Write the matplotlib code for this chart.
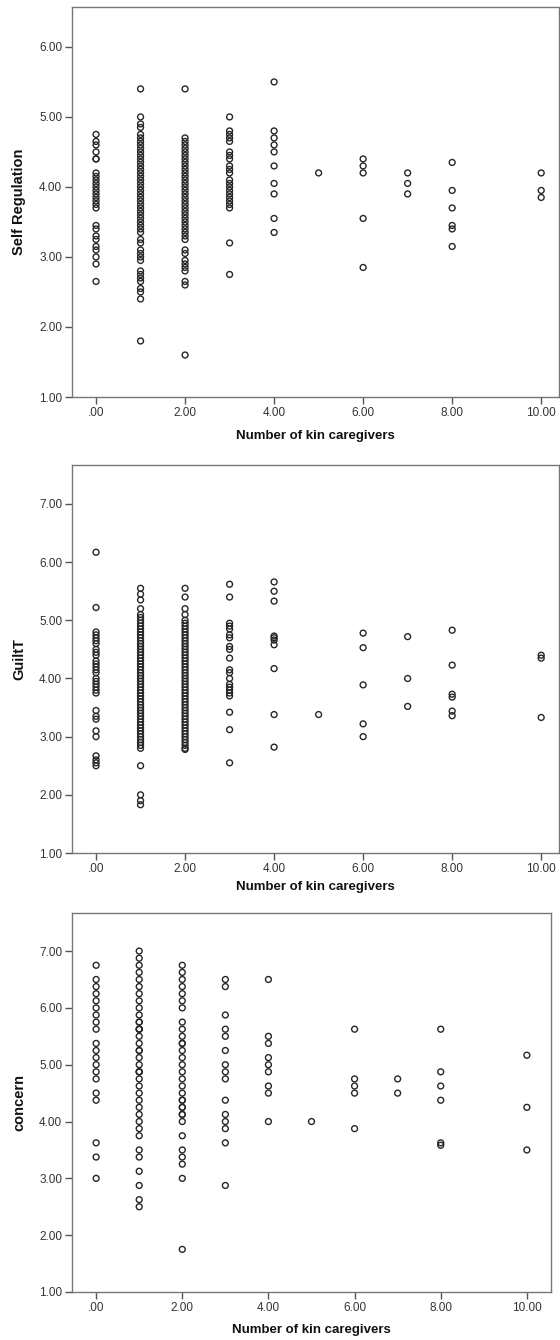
import matplotlib
matplotlib.use("Agg")
import matplotlib.pyplot as plt
from matplotlib.ticker import FuncFormatter

plt.rcParams['font.family'] = ['Liberation Sans', 'DejaVu Sans']

# x categories (number of kin caregivers)
groups = [0, 1, 2, 3, 4, 5, 6, 7, 8, 10]

self_regulation = [
    [4.75, 4.65, 4.6, 4.5, 4.4, 4.4, 4.2, 4.15, 4.1, 4.05, 4.0, 3.95, 3.9, 3.85, 3.8, 3.75, 3.7,
     3.45, 3.4, 3.3, 3.25, 3.15, 3.1, 3.0, 2.9, 2.65],
    [5.4, 5.0, 4.9, 4.85, 4.75, 4.7, 4.65, 4.6, 4.55, 4.5, 4.45, 4.4, 4.35, 4.3, 4.25, 4.2, 4.15,
     4.1, 4.05, 4.0, 3.95, 3.9, 3.85, 3.8, 3.75, 3.7, 3.65, 3.6, 3.55, 3.5, 3.45, 3.4, 3.35,
     3.25, 3.2, 3.1, 3.05, 3.0, 2.95, 2.8, 2.75, 2.7, 2.65, 2.55, 2.5, 2.4, 1.8],
    [5.4, 4.7, 4.65, 4.6, 4.55, 4.5, 4.45, 4.4, 4.35, 4.3, 4.25, 4.2, 4.15, 4.1, 4.05, 4.0, 3.95,
     3.9, 3.85, 3.8, 3.75, 3.7, 3.65, 3.6, 3.55, 3.5, 3.45, 3.4, 3.35, 3.3, 3.25, 3.1, 3.05,
     2.95, 2.9, 2.85, 2.8, 2.65, 2.6, 1.6],
    [5.0, 4.8, 4.75, 4.7, 4.65, 4.5, 4.45, 4.4, 4.3, 4.25, 4.2, 4.1, 4.05, 4.0, 3.95, 3.9, 3.85,
     3.8, 3.75, 3.7, 3.2, 2.75],
    [5.5, 4.8, 4.7, 4.6, 4.5, 4.3, 4.05, 3.9, 3.55, 3.35],
    [4.2],
    [4.4, 4.3, 4.2, 3.55, 2.85],
    [4.2, 4.05, 3.9],
    [4.35, 3.95, 3.7, 3.45, 3.4, 3.15],
    [4.2, 3.95, 3.85],
]

guilt_t = [
    [6.17, 5.22, 4.8, 4.75, 4.7, 4.65, 4.6, 4.5, 4.45, 4.4, 4.3, 4.25, 4.2, 4.15, 4.1, 4.0, 3.95,
     3.9, 3.85, 3.8, 3.75, 3.45, 3.35, 3.3, 3.1, 3.0, 2.67, 2.6, 2.55, 2.5],
    [5.55, 5.45, 5.35, 5.2, 5.1, 5.05, 5.0, 4.95, 4.9, 4.85, 4.8, 4.75, 4.7, 4.65, 4.6, 4.55,
     4.5, 4.45, 4.4, 4.35, 4.3, 4.25, 4.2, 4.15, 4.1, 4.05, 4.0, 3.95, 3.9, 3.85, 3.8, 3.75,
     3.7, 3.65, 3.6, 3.55, 3.5, 3.45, 3.4, 3.35, 3.3, 3.25, 3.2, 3.15, 3.1, 3.05, 3.0, 2.95,
     2.9, 2.85, 2.8, 2.5, 2.0, 1.9, 1.83],
    [5.55, 5.4, 5.2, 5.1, 5.0, 4.95, 4.9, 4.85, 4.8, 4.75, 4.7, 4.65, 4.6, 4.55, 4.5, 4.45,
     4.4, 4.35, 4.3, 4.25, 4.2, 4.15, 4.1, 4.05, 4.0, 3.95, 3.9, 3.85, 3.8, 3.75, 3.7, 3.65,
     3.6, 3.55, 3.5, 3.45, 3.4, 3.35, 3.3, 3.25, 3.2, 3.15, 3.1, 3.05, 3.0, 2.95, 2.9, 2.85,
     2.8, 2.78],
    [5.62, 5.4, 4.95, 4.9, 4.85, 4.75, 4.7, 4.55, 4.5, 4.35, 4.15, 4.1, 4.0, 3.9, 3.85, 3.8,
     3.75, 3.7, 3.42, 3.12, 2.55],
    [5.66, 5.5, 5.33, 4.73, 4.7, 4.66, 4.58, 4.17, 3.38, 2.82],
    [3.38],
    [4.78, 4.53, 3.89, 3.22, 3.0],
    [4.72, 4.0, 3.52],
    [4.83, 4.23, 3.73, 3.68, 3.44, 3.36],
    [4.4, 4.35, 3.33],
]

concern = [
    [6.75, 6.5, 6.375, 6.25, 6.125, 6.0, 5.875, 5.75, 5.625, 5.375, 5.25, 5.125, 5.0, 4.875,
     4.75, 4.5, 4.375, 3.625, 3.375, 3.0],
    [7.0, 6.875, 6.75, 6.625, 6.5, 6.375, 6.25, 6.125, 6.0, 5.875, 5.75, 5.75, 5.625, 5.625,
     5.625, 5.5, 5.375, 5.25, 5.25, 5.125, 5.0, 4.875, 4.875, 4.875, 4.75, 4.625, 4.5, 4.375,
     4.25, 4.125, 4.0, 3.875, 3.75, 3.5, 3.375, 3.125, 2.875, 2.625, 2.5],
    [6.75, 6.625, 6.5, 6.375, 6.25, 6.125, 6.0, 5.75, 5.625, 5.5, 5.375, 5.375, 5.25, 5.125,
     5.0, 4.875, 4.75, 4.625, 4.5, 4.375, 4.375, 4.25, 4.25, 4.125, 4.125, 4.0, 3.75, 3.5,
     3.375, 3.25, 3.0, 1.75],
    [6.5, 6.375, 5.875, 5.625, 5.5, 5.25, 5.0, 4.875, 4.75, 4.375, 4.125, 4.0, 3.875, 3.625,
     2.875],
    [6.5, 5.5, 5.375, 5.125, 5.0, 4.875, 4.625, 4.5, 4.0],
    [4.0],
    [5.625, 4.75, 4.625, 4.5, 3.875],
    [4.75, 4.5],
    [5.625, 4.875, 4.625, 4.375, 3.625, 3.583],
    [5.167, 4.25, 3.5],
]

x_ticks = [0, 2, 4, 6, 8, 10]
x_label = "Number of kin caregivers"
y_labels = ["Self Regulation", "GuiltT", "concern"]

W, H = 560, 1340
fig = plt.figure(figsize=(W / 100, H / 100), dpi=100)

# panel geometry in pixels: left, right, top, bottom
panels = [
    dict(data=self_regulation, px=(72, 559, 7, 397), xlim=(-0.54, 10.40), ylim=(1.0, 6.57),
         yticks=[1, 2, 3, 4, 5, 6], xlab_y=-0.10),
    dict(data=guilt_t, px=(72, 559, 465, 853), xlim=(-0.54, 10.40), ylim=(1.0, 7.67),
         yticks=[1, 2, 3, 4, 5, 6, 7], xlab_y=-0.088),
    dict(data=concern, px=(72, 551, 913, 1292), xlim=(-0.56, 10.56), ylim=(1.0, 7.67),
         yticks=[1, 2, 3, 4, 5, 6, 7], xlab_y=-0.10),
]

fmt = FuncFormatter(lambda v, p: (f"{v:.2f}"[1:] if abs(v) < 1e-9 else f"{v:.2f}"))
spine_col = "#777777"

for p, ylab in zip(panels, y_labels):
    l, r, t, b = p["px"]
    ax = fig.add_axes([l / W, 1 - b / H, (r - l) / W, (b - t) / H])
    xs, ys = [], []
    for g, vals in zip(groups, p["data"]):
        xs.extend([g] * len(vals))
        ys.extend(vals)
    ax.scatter(xs, ys, s=18, facecolors="none", edgecolors="#262626", linewidths=1.0)
    ax.set_xlim(*p["xlim"])
    ax.set_ylim(*p["ylim"])
    ax.set_xticks(x_ticks)
    ax.set_yticks(p["yticks"])
    ax.xaxis.set_major_formatter(fmt)
    ax.yaxis.set_major_formatter(fmt)
    for s in ax.spines.values():
        s.set_color(spine_col)
        s.set_linewidth(1.0)
    ax.tick_params(direction="out", length=5, width=1.0, color="#555555",
                   labelsize=8.5, labelcolor="#333333", pad=2)
    ax.set_xlabel(x_label, fontsize=9.5, fontweight="bold", color="#111111")
    ax.set_ylabel(ylab, fontsize=10.5, fontweight="bold", color="#111111")
    ax.xaxis.set_label_coords(0.5, p["xlab_y"])
    ax.xaxis.label.set_va("center")
    ax.yaxis.set_label_coords((19 - l) / (r - l), 0.5)
    ax.yaxis.label.set_va("center")

fig.savefig("out.png", dpi=100)
